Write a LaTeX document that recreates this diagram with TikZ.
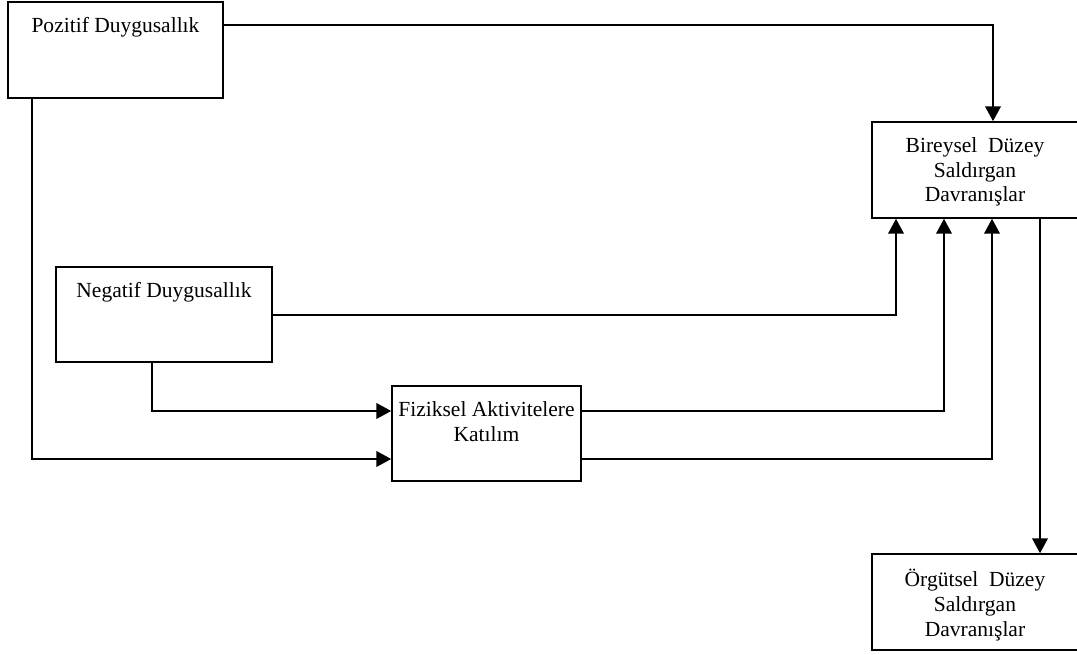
\documentclass[tikz,border=0pt]{standalone}
\usepackage{fontspec}
\setmainfont{Liberation Serif}
\usetikzlibrary{arrows.meta}

\begin{document}
\begin{tikzpicture}[x=0.025cm,y=-0.025cm,
        font=\fontsize{15.3}{17.5}\selectfont,
        kutu/.style={draw,line width=1.1pt,inner sep=0pt,align=center},
        ust/.style={anchor=north,inner sep=0pt,align=center,yshift=-0.4cm},
        ok/.style={line width=1.1pt,-{Triangle[length=0.37cm,width=0.39cm]}}]
        \useasboundingbox (0,0) rectangle (1077,655);

        \node[kutu,minimum width=5.375cm,minimum height=2.4cm,
              label={[ust]north:Pozitif Duygusallık}] (pos) at (115.5,50) {};
        \node[kutu,minimum width=5.4cm,minimum height=2.375cm,
              label={[ust]north:Negatif Duygusallık}] (neg) at (164,314.5) {};
        \node[kutu,minimum width=4.725cm,minimum height=2.375cm,
              label={[ust]north:Fiziksel Aktivitelere\\Katılım}] (fiz) at (486.5,433.5) {};
        \node[kutu,minimum width=5.15cm,minimum height=2.4cm,
              label={[ust]north:Bireysel~~Düzey\\Saldırgan\\Davranışlar}] (bir) at (975,170) {};
        \node[kutu,minimum width=5.15cm,minimum height=2.4cm,
              label={[ust]north:Örgütsel~~Düzey\\Saldırgan\\Davranışlar}] (org) at (975,602) {};

        \draw[ok] (pos.east |- 0,25) -| (993,0 |- bir.north);
        \draw[ok] (32,0 |- pos.south) |- (fiz.west |- 0,459);
        \draw[ok] (neg.east |- 0,315) -| (896,0 |- bir.south);
        \draw[ok] (152,0 |- neg.south) |- (fiz.west |- 0,411);
        \draw[ok] (fiz.east |- 0,411) -| (944,0 |- bir.south);
        \draw[ok] (fiz.east |- 0,459) -| (992,0 |- bir.south);
        \draw[ok] (1040,0 |- bir.south) -- (1040,0 |- org.north);

    \end{tikzpicture}
\end{document}
